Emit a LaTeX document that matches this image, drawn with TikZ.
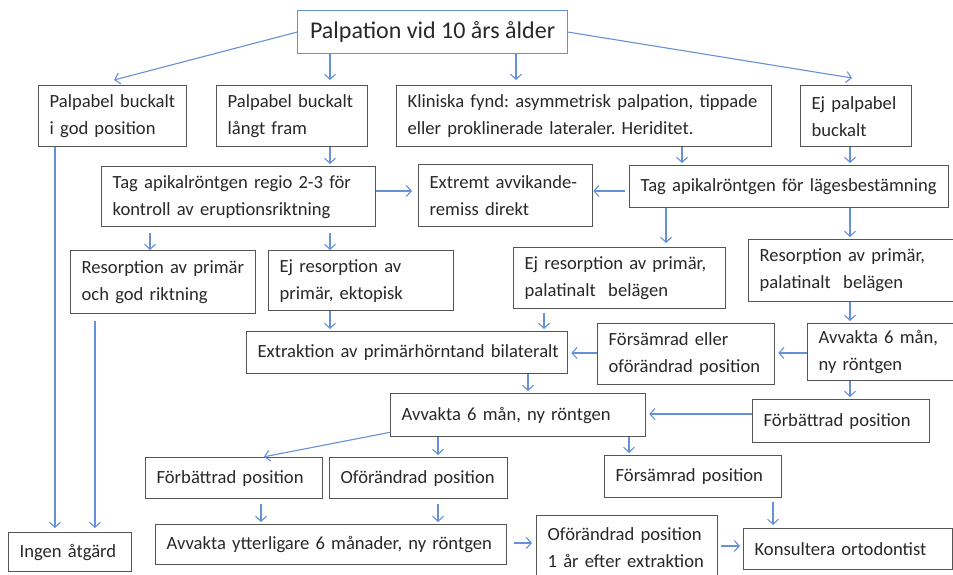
\documentclass[tikz,border=0pt]{standalone}
\usepackage{fontspec}
\setmainfont{Carlito}
\usetikzlibrary{arrows.meta}
\frenchspacing
\definecolor{lnblue}{RGB}{100,145,215}
\definecolor{bxgray}{RGB}{85,85,85}
\definecolor{txtc}{RGB}{40,40,40}
\newcommand\bxtext{\fontsize{18.6}{27}\selectfont}
\newcommand\ttltext{\fontsize{24}{28}\selectfont}
\newcommand\lnb[1]{\mbox{#1}}
\newcommand\bxn[6]{\node[bx, minimum width=#4pt, minimum height=#5pt, text width=#4pt-22pt] (#1) at (#2,#3) {#6};}
\tikzset{
  bx/.style={draw=bxgray, line width=1.3pt, inner xsep=10pt, inner ysep=0pt, anchor=north west, align=left, font=\bxtext, text=txtc},
  ttl/.style={draw=lnblue, line width=1.2pt, inner sep=0pt, anchor=north west, align=center, font=\ttltext, text=txtc},
  arr/.style={draw=lnblue, line width=1.1pt, -{Straight Barb[length=5pt,width=11pt]}, shorten >=2pt}
}
\begin{document}
\begin{tikzpicture}[x=1pt,y=-1pt]
\useasboundingbox (0,0) rectangle (953,575);
\node[ttl, minimum width=270pt, minimum height=43pt] (top) at (297,10) {Palpation vid 10 års ålder};
\bxn{b1}{38}{85}{148}{61}{\lnb{Palpabel buckalt}\\\lnb{i god position}}
\bxn{b2}{216}{85}{151}{61}{\lnb{Palpabel buckalt}\\\lnb{långt fram}}
\bxn{b3}{396}{85}{375}{61}{\lnb{Kliniska fynd: asymmetrisk palpation, tippade}\\\lnb{eller proklinerade lateraler. Heriditet.}}
\bxn{b4}{800}{85}{111}{61}{\lnb{Ej palpabel}\\\lnb{buckalt}}
\bxn{c1}{101}{166}{274}{60}{\lnb{Tag apikalröntgen regio 2-3 för}\\\lnb{kontroll av eruptionsriktning}}
\bxn{c2}{418}{164}{174}{62}{\lnb{Extremt avvikande-}\\\lnb{remiss direkt}}
\bxn{c3}{629}{165}{319}{42}{\lnb{Tag apikalröntgen för lägesbestämning}}
\bxn{d1}{70}{250}{185}{63}{\lnb{Resorption av primär}\\\lnb{och god riktning}}
\bxn{d2}{268}{250}{185}{60}{\lnb{Ej resorption av}\\\lnb{primär, ektopisk}}
\bxn{d3}{513}{247}{212}{61}{\lnb{Ej resorption av primär,}\\\lnb{palatinalt\ \ belägen}}
\bxn{d4}{748}{239}{210}{62}{\lnb{Resorption av primär,}\\\lnb{palatinalt\ \ belägen}}
\bxn{e1}{246}{331}{321}{42}{\lnb{Extraktion av primärhörntand bilateralt}}
\bxn{e2}{597}{323}{177}{61}{\lnb{Försämrad eller}\\\lnb{oförändrad position}}
\bxn{e3}{807}{323}{152}{57}{\lnb{Avvakta 6 mån,}\\\lnb{ny röntgen}}
\bxn{f1}{390}{393}{255}{43}{\lnb{Avvakta 6 mån, ny röntgen}}
\bxn{f2}{752}{399}{177}{43}{\lnb{Förbättrad position}}
\bxn{g1}{145}{457}{177}{41}{\lnb{Förbättrad position}}
\bxn{g2}{329}{457}{178}{41}{\lnb{Oförändrad position}}
\bxn{g3}{604}{455}{177}{42}{\lnb{Försämrad position}}
\bxn{h0}{8}{532}{123}{39}{\lnb{Ingen åtgärd}}
\bxn{h1}{155}{524}{351}{40}{\lnb{Avvakta ytterligare 6 månader, ny röntgen}}
\bxn{h2}{536}{515}{181}{64}{\lnb{Oförändrad position}\\\lnb{1 år efter extraktion}}
\bxn{h3}{743}{528}{209}{41}{\lnb{Konsultera ortodontist}}
% connectors
\draw[arr, shorten >=0pt] (top.west) -- ([xshift=76pt,yshift=5pt]b1.north west);
\draw[arr, shorten >=5pt] (top.south -| 330,0) -- (b2.north -| 330,0);
\draw[arr, shorten >=5pt] (top.south -| 516,0) -- (b3.north -| 516,0);
\draw[arr, shorten >=0pt] (top.east) -- ([xshift=52pt,yshift=7pt]b4.north west);
\draw[arr] (b2.south -| 330,0) -- (c1.north -| 330,0);
\draw[arr] (b3.south -| 682,0) -- (c3.north -| 682,0);
\draw[arr] (b4.south -| 850,0) -- (c3.north -| 850,0);
\draw[arr, shorten >=6pt] (c1.east |- 0,191) -- (c2.west |- 0,191);
\draw[arr, shorten <=4pt, shorten >=0pt] (c3.west |- 0,191) -- (c2.east |- 0,191);
\draw[arr, shorten <=6pt, shorten >=0pt] (c1.south -| 150,0) -- (d1.north -| 150,0);
\draw[arr, shorten <=6pt, shorten >=0pt] (c1.south -| 330,0) -- (d2.north -| 330,0);
\draw[arr, shorten >=4pt] (b1.south -| 55,0) -- (h0.north -| 55,0);
\draw[arr, shorten <=7pt, shorten >=4pt] (d1.south -| 95,0) -- (h0.north -| 95,0);
\draw[arr, shorten >=4pt] (c3.south -| 666,0) -- (d3.north -| 666,0);
\draw[arr] (c3.south -| 850,0) -- (d4.north -| 850,0);
\draw[arr] (d2.south -| 330,0) -- (e1.north -| 330,0);
\draw[arr, shorten <=4pt] (d3.south -| 544,0) -- (e1.north -| 544,0);
\draw[arr] (d4.south -| 850,0) -- (e3.north -| 850,0);
\draw[arr, shorten >=3pt] (e3.west |- 0,353) -- (e2.east |- 0,353);
\draw[arr, shorten >=3pt] (e2.west |- 0,353) -- (e1.east |- 0,353);
\draw[arr] (e1.south -| 528,0) -- (f1.north -| 528,0);
\draw[arr] (e3.south -| 850,0) -- (f2.north -| 850,0);
\draw[arr, shorten >=3pt] (f2.west |- 0,414) -- (f1.east |- 0,414);
\draw[arr, shorten >=1pt] ([yshift=5pt]f1.south west) -- (g1.north -| 263,0);
\draw[arr] (f1.south -| 438,0) -- (g2.north -| 438,0);
\draw[arr] (f1.south -| 629,0) -- (g3.north -| 629,0);
\draw[arr, shorten <=5pt] (g1.south -| 261,0) -- (h1.north -| 261,0);
\draw[arr, shorten <=5pt] (g2.south -| 438,0) -- (h1.north -| 438,0);
\draw[arr, shorten <=7pt, shorten >=4pt] (h1.east |- 0,543) -- (h2.west |- 0,543);
\draw[arr, shorten <=3pt, shorten >=3pt] (h2.east |- 0,546) -- (h3.west |- 0,546);
\draw[arr, shorten <=4pt, shorten >=3pt] (g3.south -| 773,0) -- (h3.north -| 773,0);
\end{tikzpicture}
\end{document}
